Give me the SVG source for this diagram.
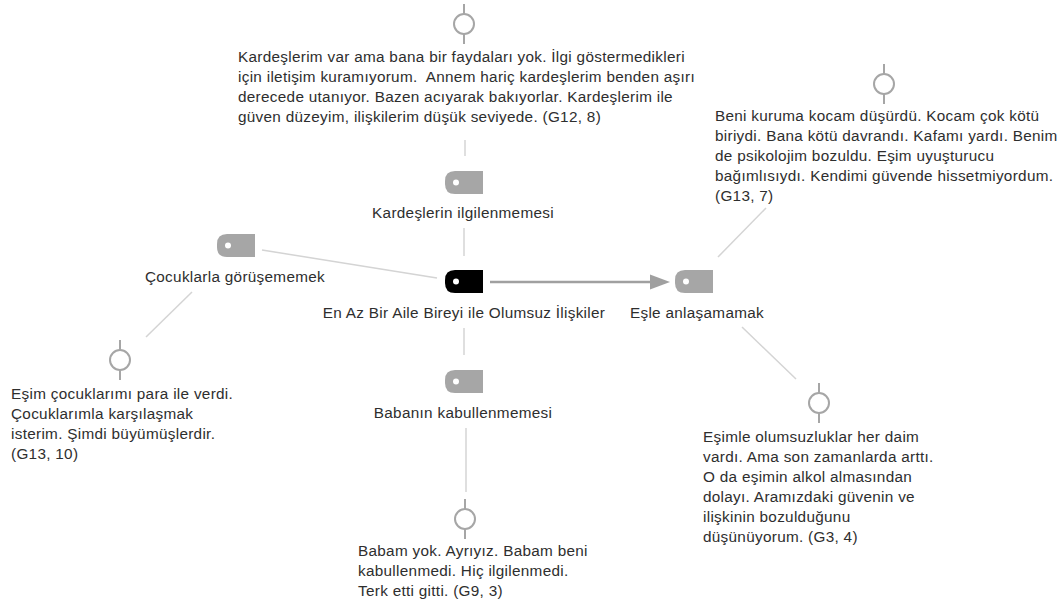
<svg xmlns="http://www.w3.org/2000/svg" xmlns:xlink="http://www.w3.org/1999/xlink" width="1057" height="604" viewBox="0 0 1057 604">
<style>
text{font-family:"Liberation Sans",Arial,sans-serif;font-size:15.3px;fill:#2e2e2e;letter-spacing:0.3px}
.lbl{text-anchor:middle}
.con{stroke:#d4d4d4;stroke-width:1.5;fill:none}
.mk{stroke:#a6a6a6;stroke-width:2;fill:none}
</style>
<defs>
<path id="tagshape" d="M10 0H38V23H10Q0 23 0 13V10Q0 0 10 0Z"/>
<g id="tagG"><use xlink:href="#tagshape" fill="#a6a6a6"/><circle cx="11" cy="11.5" r="3" fill="#fff"/></g>
<g id="tagB"><use xlink:href="#tagshape" fill="#000"/><circle cx="11" cy="11.5" r="3" fill="#fff"/></g>
<g id="mark"><line class="mk" x1="0" y1="-20" x2="0" y2="-10"/><circle class="mk" cx="0" cy="0" r="10"/><line class="mk" x1="0" y1="10" x2="0" y2="20"/></g>
</defs>
<rect width="1057" height="604" fill="#fff"/>
<g id="connectors">
<line class="con" x1="465" y1="140" x2="465" y2="156"/>
<line class="con" x1="464" y1="228" x2="464" y2="256"/>
<line class="con" x1="262" y1="250" x2="437" y2="278"/>
<line class="con" x1="192" y1="292" x2="146" y2="337"/>
<line class="con" x1="464" y1="328" x2="464" y2="355"/>
<line class="con" x1="466" y1="428" x2="466" y2="492"/>
<line class="con" x1="718" y1="257" x2="766" y2="208"/>
<line class="con" x1="742" y1="327" x2="796" y2="379"/>
<line x1="490" y1="282" x2="652" y2="282" stroke="#a0a0a0" stroke-width="2.5"/>
<polygon points="650,274.5 670,282 650,289.5" fill="#a0a0a0"/>
</g>
<g id="n-central"><use xlink:href="#tagB" x="445" y="270"/><text class="lbl" x="464" y="318">En Az Bir Aile Bireyi ile Olumsuz İlişkiler</text></g>
<g id="n-kardes"><use xlink:href="#tagG" x="445" y="171"/><text class="lbl" x="463" y="218">Kardeşlerin ilgilenmemesi</text></g>
<g id="n-cocuk"><use xlink:href="#tagG" x="217" y="234"/><text class="lbl" x="235" y="282">Çocuklarla görüşememek</text></g>
<g id="n-es"><use xlink:href="#tagG" x="675" y="270"/><text class="lbl" x="697" y="318">Eşle anlaşamamak</text></g>
<g id="n-baba"><use xlink:href="#tagG" x="445" y="370"/><text class="lbl" x="463" y="418">Babanın kabullenmemesi</text></g>
<g id="q-kardes"><use xlink:href="#mark" x="464" y="24"/>
<text x="238" y="62">Kardeşlerim var ama bana bir faydaları yok. İlgi göstermedikleri</text>
<text x="238" y="82" xml:space="preserve">için iletişim kuramıyorum.  Annem hariç kardeşlerim benden aşırı</text>
<text x="238" y="102">derecede utanıyor. Bazen acıyarak bakıyorlar. Kardeşlerim ile</text>
<text x="238" y="122">güven düzeyim, ilişkilerim düşük seviyede. (G12, 8)</text>
</g>
<g id="q-es1"><use xlink:href="#mark" x="884" y="84"/>
<text x="715" y="121">Beni kuruma kocam düşürdü. Kocam çok kötü</text>
<text x="715" y="141">biriydi. Bana kötü davrandı. Kafamı yardı. Benim</text>
<text x="715" y="161">de psikolojim bozuldu. Eşim uyuşturucu</text>
<text x="715" y="181">bağımlısıydı. Kendimi güvende hissetmiyordum.</text>
<text x="715" y="201">(G13, 7)</text>
</g>
<g id="q-cocuk"><use xlink:href="#mark" x="120" y="360"/>
<text x="11" y="399">Eşim çocuklarımı para ile verdi.</text>
<text x="11" y="419">Çocuklarımla karşılaşmak</text>
<text x="11" y="439">isterim. Şimdi büyümüşlerdir.</text>
<text x="11" y="459">(G13, 10)</text>
</g>
<g id="q-es2"><use xlink:href="#mark" x="819" y="403"/>
<text x="703" y="442">Eşimle olumsuzluklar her daim</text>
<text x="703" y="462">vardı. Ama son zamanlarda arttı.</text>
<text x="703" y="482">O da eşimin alkol almasından</text>
<text x="703" y="502">dolayı. Aramızdaki güvenin ve</text>
<text x="703" y="522">ilişkinin bozulduğunu</text>
<text x="703" y="542">düşünüyorum. (G3, 4)</text>
</g>
<g id="q-baba"><use xlink:href="#mark" x="465" y="519"/>
<text x="358" y="556">Babam yok. Ayrıyız. Babam beni</text>
<text x="358" y="576">kabullenmedi. Hiç ilgilenmedi.</text>
<text x="358" y="596">Terk etti gitti. (G9, 3)</text>
</g>
</svg>
